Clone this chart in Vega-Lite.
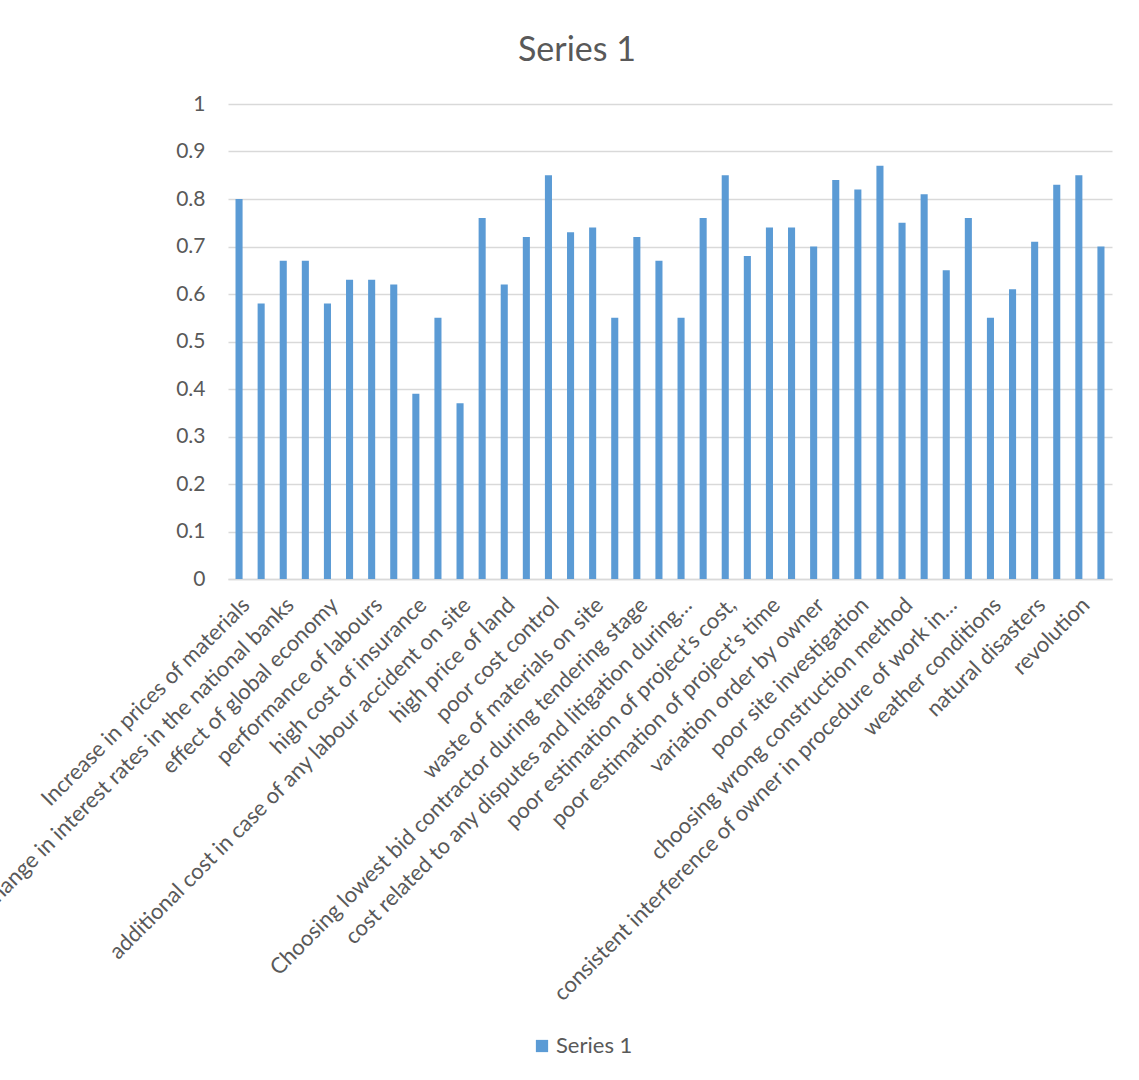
{
  "$schema": "https://vega.github.io/schema/vega-lite/v6.json",
  "width": 884,
  "height": 475,
  "autosize": {"type": "none"},
  "padding": {"left": 228, "top": 104, "right": 27, "bottom": 501},
  "background": "white",
  "title": {
    "text": "Series 1",
    "font": "Lato",
    "fontSize": 34,
    "fontWeight": "normal",
    "color": "#595959",
    "anchor": "middle",
    "frame": "group",
    "dx": -93,
    "offset": 25
  },
  "data": {
    "values": [
      {"factor": "Increase in prices of materials", "value": 0.80, "series": "Series 1"},
      {"factor": "factor 2", "value": 0.58, "series": "Series 1"},
      {"factor": "change in interest rates in the national banks", "value": 0.67, "series": "Series 1"},
      {"factor": "factor 4", "value": 0.67, "series": "Series 1"},
      {"factor": "effect of global economy", "value": 0.58, "series": "Series 1"},
      {"factor": "factor 6", "value": 0.63, "series": "Series 1"},
      {"factor": "performance of labours", "value": 0.63, "series": "Series 1"},
      {"factor": "factor 8", "value": 0.62, "series": "Series 1"},
      {"factor": "high cost of insurance", "value": 0.39, "series": "Series 1"},
      {"factor": "factor 10", "value": 0.55, "series": "Series 1"},
      {"factor": "additional cost in case of any labour accident on site", "value": 0.37, "series": "Series 1"},
      {"factor": "factor 12", "value": 0.76, "series": "Series 1"},
      {"factor": "high price of land", "value": 0.62, "series": "Series 1"},
      {"factor": "factor 14", "value": 0.72, "series": "Series 1"},
      {"factor": "poor cost control", "value": 0.85, "series": "Series 1"},
      {"factor": "factor 16", "value": 0.73, "series": "Series 1"},
      {"factor": "waste of materials on site", "value": 0.74, "series": "Series 1"},
      {"factor": "factor 18", "value": 0.55, "series": "Series 1"},
      {"factor": "Choosing lowest bid contractor during tendering stage", "value": 0.72, "series": "Series 1"},
      {"factor": "factor 20", "value": 0.67, "series": "Series 1"},
      {"factor": "cost related to any disputes and litigation during…", "value": 0.55, "series": "Series 1"},
      {"factor": "factor 22", "value": 0.76, "series": "Series 1"},
      {"factor": "poor estimation of project’s cost,", "value": 0.85, "series": "Series 1"},
      {"factor": "factor 24", "value": 0.68, "series": "Series 1"},
      {"factor": "poor estimation of project’s time", "value": 0.74, "series": "Series 1"},
      {"factor": "factor 26", "value": 0.74, "series": "Series 1"},
      {"factor": "variation order by owner", "value": 0.70, "series": "Series 1"},
      {"factor": "factor 28", "value": 0.84, "series": "Series 1"},
      {"factor": "poor site investigation", "value": 0.82, "series": "Series 1"},
      {"factor": "factor 30", "value": 0.87, "series": "Series 1"},
      {"factor": "choosing wrong construction method", "value": 0.75, "series": "Series 1"},
      {"factor": "factor 32", "value": 0.81, "series": "Series 1"},
      {"factor": "consistent interference of owner in procedure of work in…", "value": 0.65, "series": "Series 1"},
      {"factor": "factor 34", "value": 0.76, "series": "Series 1"},
      {"factor": "weather conditions", "value": 0.55, "series": "Series 1"},
      {"factor": "factor 36", "value": 0.61, "series": "Series 1"},
      {"factor": "natural disasters", "value": 0.71, "series": "Series 1"},
      {"factor": "factor 38", "value": 0.83, "series": "Series 1"},
      {"factor": "revolution", "value": 0.85, "series": "Series 1"},
      {"factor": "factor 40", "value": 0.70, "series": "Series 1"}
    ]
  },
  "mark": {"type": "bar"},
  "encoding": {
    "x": {
      "field": "factor",
      "type": "nominal",
      "sort": null,
      "scale": {"paddingInner": 0.68, "paddingOuter": 0.34},
      "axis": {
        "title": null,
        "values": [
          "Increase in prices of materials",
          "change in interest rates in the national banks",
          "effect of global economy",
          "performance of labours",
          "high cost of insurance",
          "additional cost in case of any labour accident on site",
          "high price of land",
          "poor cost control",
          "waste of materials on site",
          "Choosing lowest bid contractor during tendering stage",
          "cost related to any disputes and litigation during…",
          "poor estimation of project’s cost,",
          "poor estimation of project’s time",
          "variation order by owner",
          "poor site investigation",
          "choosing wrong construction method",
          "consistent interference of owner in procedure of work in…",
          "weather conditions",
          "natural disasters",
          "revolution"
        ],
        "labelAngle": -45,
        "labelFont": "Lato",
        "labelFontSize": 22,
        "labelColor": "#595959",
        "labelLimit": 2000,
        "labelOverlap": false,
        "labelPadding": 15,
        "ticks": false,
        "domain": true,
        "domainColor": "#D9D9D9",
        "domainWidth": 1.5
      }
    },
    "y": {
      "field": "value",
      "type": "quantitative",
      "scale": {"domain": [0, 1], "nice": false},
      "axis": {
        "title": null,
        "values": [0, 0.1, 0.2, 0.3, 0.4, 0.5, 0.6, 0.7, 0.8, 0.9, 1],
        "format": ".1~f",
        "labelFont": "Lato",
        "labelFontSize": 21,
        "labelColor": "#595959",
        "labelPadding": 23,
        "ticks": false,
        "domain": false,
        "grid": true,
        "gridColor": "#D9D9D9",
        "gridWidth": 1.5
      }
    },
    "color": {
      "field": "series",
      "type": "nominal",
      "scale": {"range": ["#5B9BD5"]},
      "legend": {
        "title": null,
        "orient": "none",
        "legendX": 303,
        "legendY": 931,
        "symbolType": "square",
        "symbolSize": 150,
        "symbolStrokeWidth": 0,
        "labelFont": "Lato",
        "labelFontSize": 22,
        "labelColor": "#595959",
        "labelOffset": 3
      }
    }
  },
  "config": {
    "view": {"stroke": null}
  }
}
